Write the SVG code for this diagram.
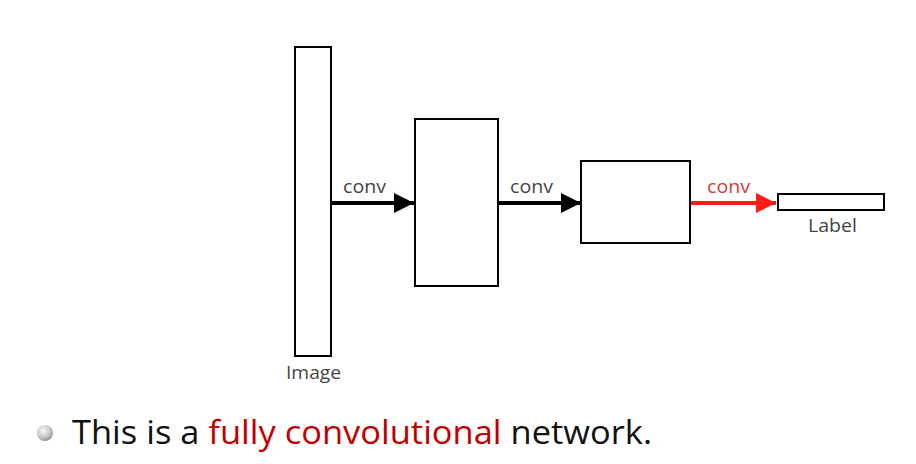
<svg xmlns="http://www.w3.org/2000/svg" width="916" height="464" viewBox="0 0 916 464">
<defs>
<style>
.box{fill:#fff;stroke:#000;stroke-width:2}
.lbl{font-family:"Open Sans","Noto Sans",sans-serif;font-size:19px;fill:#444}
.main{font-family:"Open Sans","Noto Sans",sans-serif;font-size:33px;fill:#111}
</style>
<marker id="ah" markerWidth="5" markerHeight="5" refX="5" refY="2.5" orient="auto" markerUnits="strokeWidth"><path d="M0,0 L5,2.5 L0,5 z" fill="#000"/></marker>
<marker id="ahr" markerWidth="5" markerHeight="5" refX="5" refY="2.5" orient="auto" markerUnits="strokeWidth"><path d="M0,0 L5,2.5 L0,5 z" fill="#ff1a1a"/></marker>
<radialGradient id="bul" cx="0.4" cy="0.35" r="0.7"><stop offset="0" stop-color="#fafafa"/><stop offset="0.6" stop-color="#c8c8c8"/><stop offset="1" stop-color="#8a8a8a"/></radialGradient>
</defs>
<rect width="916" height="464" fill="#fff"/>
<g id="image"><rect class="box" x="295" y="47" width="36" height="309"/><text class="lbl" x="286" y="379" textLength="55" lengthAdjust="spacingAndGlyphs">Image</text></g>
<g id="fm1"><rect class="box" x="415" y="119" width="83" height="167"/></g>
<g id="fm2"><rect class="box" x="581" y="161" width="109" height="82"/></g>
<g id="label"><rect class="box" x="778" y="194" width="106" height="16"/><text class="lbl" x="808" y="232" textLength="49" lengthAdjust="spacingAndGlyphs">Label</text></g>
<g id="connectors">
<line x1="331" y1="203" x2="414" y2="203" stroke="#000" stroke-width="4" marker-end="url(#ah)"/>
<text class="lbl" x="343" y="193" textLength="43" lengthAdjust="spacingAndGlyphs">conv</text>
<line x1="498" y1="203" x2="581" y2="203" stroke="#000" stroke-width="4" marker-end="url(#ah)"/>
<text class="lbl" x="510" y="193" textLength="43" lengthAdjust="spacingAndGlyphs">conv</text>
<line x1="691" y1="203" x2="776" y2="203" stroke="#ff1a1a" stroke-width="4" marker-end="url(#ahr)"/>
<text class="lbl" x="707" y="193" textLength="43" lengthAdjust="spacingAndGlyphs" style="fill:#d03a3a">conv</text>
</g>
<g id="caption">
<circle cx="45" cy="433" r="8" fill="url(#bul)"/>
<text class="main" x="72" y="444" textLength="580" lengthAdjust="spacingAndGlyphs">This is a <tspan fill="#c00000">fully convolutional</tspan> network.</text>
</g>
</svg>
